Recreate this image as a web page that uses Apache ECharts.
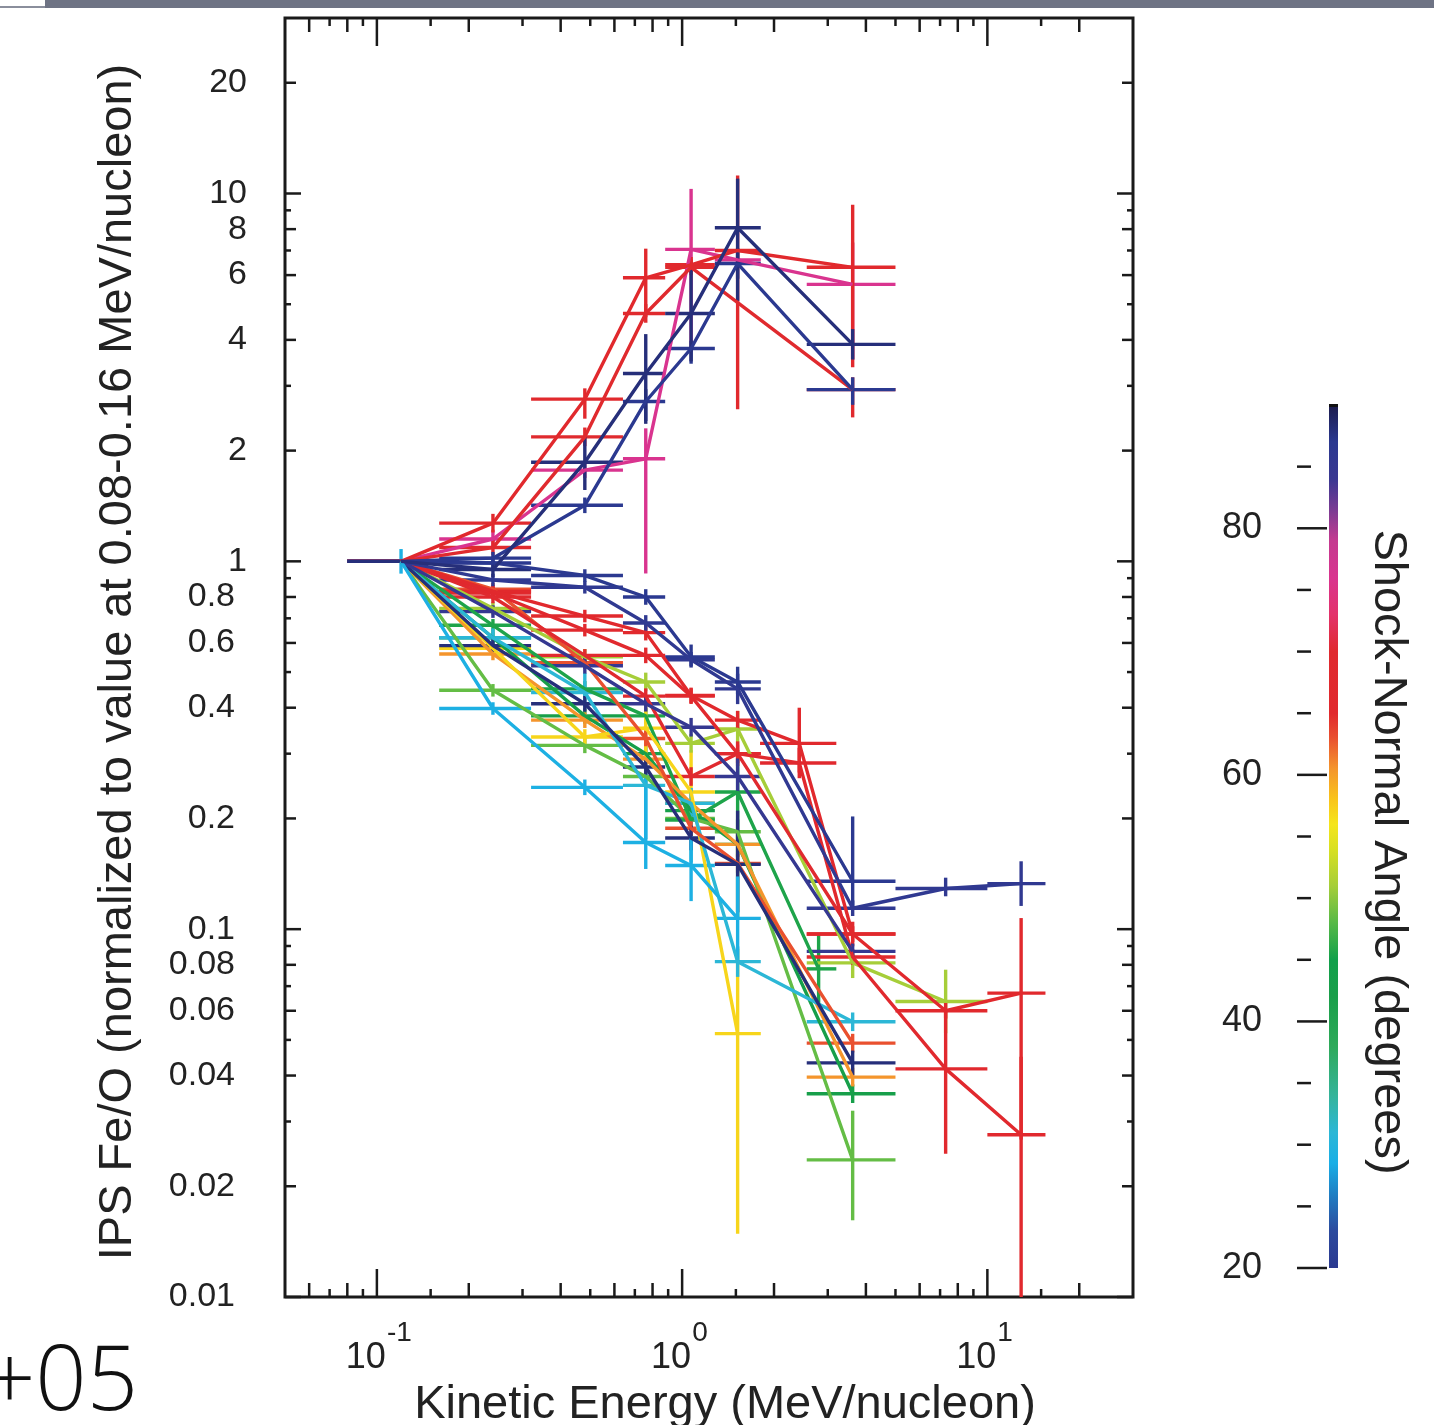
<!DOCTYPE html>
<html>
<head>
<meta charset="utf-8">
<script src="https://cdn.jsdelivr.net/npm/echarts@6/dist/echarts.min.js"></script>
<style>
  html, body { margin: 0; padding: 0; background: #ffffff; }
  #chart { width: 1434px; height: 1425px; }
</style>
</head>
<body>
<div id="chart"></div>
<script>
// ---- Energy bins (MeV/nucleon): centre and horizontal extent ----
const binCenter = [0.12, 0.24, 0.48, 0.76, 1.07, 1.52, 2.42, 2.8, 3.62, 7.3, 12.9];
const binLow    = [0.08, 0.16, 0.32, 0.64, 0.88, 1.28, 1.8, 2.56, 2.56, 5.0, 10.0];
const binHigh   = [0.16, 0.32, 0.64, 0.88, 1.28, 1.81, 3.2, 3.2, 5.0, 10.0, 15.5];

// ---- Events: [bin index, normalized Fe/O, error factor up, error factor down] ----
const evG2 = [[0,1,1,1],[1,0.62,1.04,1.04],[2,0.38,1.05,1.05],[3,0.30,1.05,1.05],[4,0.21,1.06,1.06],[5,0.17,1.08,1.08],[8,0.0357,1.06,1.06]];
const evG3 = [[0,1,1,1],[1,0.446,1.04,1.04],[2,0.316,1.05,1.05],[3,0.26,1.05,1.05],[4,0.20,1.06,1.06],[5,0.184,1.08,1.08],[8,0.0236,1.36,1.46]];
const evG1 = [[0,1,1,1],[1,0.67,1.04,1.04],[2,0.45,1.05,1.05],[3,0.38,1.05,1.05],[4,0.198,1.08,1.08],[5,0.236,1.3,2.2],[7,0.078,1.25,1.25]];
const evO1 = [[0,1,1,1],[1,0.56,1.04,1.04],[2,0.37,1.05,1.05],[3,0.29,1.05,1.05],[4,0.22,1.06,1.06],[5,0.17,1.08,1.08],[8,0.0396,1.06,1.06]];
const evY1 = [[0,1,1,1],[1,0.58,1.04,1.04],[2,0.333,1.05,1.05],[3,0.352,1.22,1.3],[4,0.236,1.3,1.15],[5,0.052,1.7,3.5]];
const evLM1 = [[0,1,1,1],[1,0.745,1.04,1.04],[2,0.55,1.05,1.05],[3,0.47,1.06,1.06],[4,0.32,1.06,1.06],[5,0.35,1.12,1.1],[8,0.081,1.06,1.1],[9,0.0636,1.22,1.22]];
const evC2 = [[0,1,1,1],[1,0.62,1.06,1.06],[2,0.44,1.13,1.1],[3,0.246,1.1,1.4],[4,0.22,1.1,1.45],[5,0.0816,1.1,1.1],[8,0.056,1.06,1.06]];
const evR6 = [[0,1,1,1],[1,0.84,1.04,1.04],[2,0.53,1.04,1.04],[3,0.33,1.05,1.05],[4,0.188,1.06,1.06],[5,0.151,1.06,1.06],[8,0.049,1.06,1.06]];
const evR5 = [[0,1,1,1],[1,0.80,1.04,1.04],[2,0.555,1.04,1.04],[3,0.43,1.05,1.05],[4,0.26,1.06,1.06],[5,0.30,1.06,1.06],[8,0.097,1.08,1.08]];
const evR4 = [[0,1,1,1],[1,0.82,1.04,1.04],[2,0.65,1.04,1.04],[3,0.555,1.05,1.05],[4,0.43,1.05,1.05],[5,0.30,1.08,1.08],[6,0.283,1.1,1.1],[8,0.084,1.05,1.05],[9,0.0417,1.44,1.7],[10,0.0276,1.63,3.2]];
const evR3 = [[0,1,1,1],[1,0.83,1.04,1.04],[2,0.71,1.04,1.04],[3,0.64,1.05,1.05],[4,0.432,1.05,1.05],[5,0.37,1.06,1.06],[6,0.32,1.25,1.2],[8,0.097,1.05,1.05],[9,0.06,1.05,1.05],[10,0.067,1.6,2.5]];
const evN4 = [[0,1,1,1],[1,0.59,1.04,1.04],[2,0.41,1.05,1.05],[3,0.276,1.05,1.05],[4,0.177,1.08,1.08],[5,0.15,1.4,1.35],[8,0.0433,1.08,1.08]];
const evN3 = [[0,1,1,1],[1,0.73,1.04,1.04],[2,0.52,1.05,1.05],[3,0.41,1.05,1.05],[4,0.354,1.06,1.06],[5,0.26,1.12,1.12],[8,0.087,1.05,1.05]];
const evN2 = [[0,1,1,1],[1,0.89,1.04,1.04],[2,0.85,1.04,1.04],[3,0.68,1.05,1.05],[4,0.54,1.05,1.05],[5,0.45,1.1,1.1],[8,0.114,1.05,1.05],[9,0.129,1.07,1.05],[10,0.133,1.15,1.15]];
const evN1 = [[0,1,1,1],[1,0.99,1.04,1.04],[2,0.915,1.04,1.04],[3,0.80,1.05,1.05],[4,0.55,1.08,1.06],[5,0.47,1.1,1.08],[8,0.135,1.5,1.18]];
const evC1 = [[0,1,1.08,1.08],[1,0.398,1.04,1.04],[2,0.243,1.05,1.05],[3,0.172,1.5,1.18],[4,0.149,1.2,1.25],[5,0.107,1.3,1.3]];
const evM1 = [[0,1,1,1],[1,1.15,1.06,1.06],[2,1.77,1.05,1.05],[3,1.9,1.21,2.05],[4,7.05,1.46,1.9],[5,6.6,1.05,1.05],[8,5.66,1.3,1.6]];
const evT1 = [[0,1,1,1],[1,1.27,1.06,1.06],[2,2.76,1.07,1.13],[3,5.9,1.2,1.28],[4,6.4,1.05,1.05],[5,7.0,1.6,2.7],[8,6.3,1.48,1.87]];
const evT2 = [[0,1,1,1],[1,1.09,1.05,1.05],[2,2.18,1.06,1.06],[3,4.72,1.06,1.06],[4,6.3,1.05,1.05],[8,2.93,1.08,1.19]];
const evT4 = [[0,1,1,1],[1,1.02,1.04,1.04],[2,1.42,1.05,1.05],[3,2.72,1.08,1.13],[4,3.79,1.05,1.1],[5,6.45,1.1,1.1],[8,2.93,1.08,1.1]];
const evT5 = [[0,1,1,1],[1,0.95,1.05,1.05],[2,1.86,1.17,1.19],[3,3.24,1.28,1.37],[4,4.72,1.33,1.35],[5,8.07,1.36,1.58],[8,3.89,1.1,1.1]];

// Drawing order and shock-normal angle (degrees) of each event
const events      = [evG2, evG3, evG1, evO1, evY1, evLM1, evC2, evR6, evR5, evR4, evR3, evN4, evN3, evN2, evN1, evC1, evM1, evT1, evT2, evT4, evT5];
const eventAngles = [43,   48.5, 45.5, 60.5, 57,   51,    31,   63,   69,   67,   65,   88,   85,   86,   87,   29,   76,   66,   68,   87,   88];

// ---- Colour scale for shock-normal angle ----
const angleStops  = [20, 23, 26, 28.5, 31, 34, 38, 42, 45, 48, 51, 54, 56, 58, 60.5, 63, 65, 70, 73, 76, 79, 81.5, 84, 87, 90];
const angleColors = ['#2b3990','#2c4a9e','#1f7fc4','#19aee6','#2cb7d6','#35b49a','#2eaa5a','#1a9f4a','#12a04b','#57b947','#a6ce39','#d9e021','#f5e51c','#f9c41a','#f4952c','#e9502f','#e1292d','#e02a2f','#e3326b','#d9348f','#c43a90','#7a3b93','#3a3892','#2b3990','#1c1c4d'];

// ---- Axis ticks and labels ----
const xMajorTicks = [0.1, 1, 10];
const xEvenTicks  = [0.06, 0.08, 0.2, 0.4, 0.6, 0.8, 2, 4, 6, 8, 20];
const xOddTicks   = [0.07, 0.09, 0.15, 0.3, 0.5, 0.7, 0.9, 1.5, 3, 5, 7, 9, 15];
const yMajorTicks = [0.01, 0.1, 1, 10];
const yEvenTicks  = [0.02, 0.04, 0.06, 0.08, 0.2, 0.4, 0.6, 0.8, 2, 4, 6, 8, 20];
const yOddTicks   = [0.03, 0.05, 0.07, 0.09, 0.3, 0.5, 0.7, 0.9, 3, 5, 7, 9];
const yLabels     = ['20', '10', '8', '6', '4', '2', '1', '0.8', '0.6', '0.4', '0.2', '0.1', '0.08', '0.06', '0.04', '0.02', '0.01'];
const xLabelVals  = [0.1, 1, 10];
const xLabelExps  = ['-1', '0', '1'];
const cbMajorTicks = [20, 40, 60, 80];
const cbMinorTicks = [25, 30, 35, 45, 50, 55, 65, 70, 75, 85];

const FONT = '"Liberation Sans", Arial, Helvetica, sans-serif';
const INK = '#222222';
const MARK_WIDTH = 3.4;

function hexToRgb(h) {
  return [parseInt(h.slice(1, 3), 16), parseInt(h.slice(3, 5), 16), parseInt(h.slice(5, 7), 16)];
}
function angleColor(a) {
  for (let i = 0; i < angleStops.length - 1; i++) {
    if (a <= angleStops[i + 1]) {
      const t = Math.max(0, (a - angleStops[i]) / (angleStops[i + 1] - angleStops[i]));
      const c0 = hexToRgb(angleColors[i]), c1 = hexToRgb(angleColors[i + 1]);
      const c = c0.map((v, k) => Math.round(v + (c1[k] - v) * t));
      return 'rgb(' + c.join(',') + ')';
    }
  }
  return angleColors[angleColors.length - 1];
}

const chart = echarts.init(document.getElementById('chart'), null, { renderer: 'canvas', width: 1434, height: 1425 });

const series = [];

// Data: connecting line + error crosses for each event
events.forEach((pts, k) => {
  const color = angleColor(eventAngles[k]);
  series.push({
    type: 'line',
    xAxisIndex: 0, yAxisIndex: 0,
    data: pts.map(p => [binCenter[p[0]], p[1]]),
    showSymbol: false, symbol: 'none',
    lineStyle: { color: color, width: MARK_WIDTH },
    itemStyle: { color: color },
    silent: true
  });
  series.push({
    type: 'custom',
    xAxisIndex: 0, yAxisIndex: 0,
    clip: true,
    silent: true,
    data: pts.map(p => [binCenter[p[0]], p[1], binLow[p[0]], binHigh[p[0]], p[1] / p[3], p[1] * p[2]]),
    encode: { x: 0, y: 1 },
    renderItem: function (params, api) {
      const l = api.coord([api.value(2), api.value(1)]);
      const r = api.coord([api.value(3), api.value(1)]);
      const t = api.coord([api.value(0), api.value(5)]);
      const b = api.coord([api.value(0), api.value(4)]);
      return {
        type: 'group',
        children: [
          { type: 'line', shape: { x1: l[0], y1: l[1], x2: r[0], y2: r[1] }, style: { stroke: color, lineWidth: MARK_WIDTH } },
          { type: 'line', shape: { x1: t[0], y1: t[1], x2: b[0], y2: b[1] }, style: { stroke: color, lineWidth: MARK_WIDTH } }
        ]
      };
    }
  });
});

// Frame ticks on all four sides (pointing inward)
const tickItems = [];
xMajorTicks.forEach(v => tickItems.push([v, 1, 0, 28]));
xEvenTicks.forEach(v => tickItems.push([v, 1, 0, 14]));
xOddTicks.forEach(v => tickItems.push([v, 1, 0, 8]));
yMajorTicks.forEach(v => tickItems.push([1, v, 1, 16]));
yEvenTicks.forEach(v => tickItems.push([1, v, 1, 11]));
yOddTicks.forEach(v => tickItems.push([1, v, 1, 6]));
series.push({
  type: 'custom', xAxisIndex: 0, yAxisIndex: 0, silent: true, z: 5,
  data: tickItems,
  encode: { x: 0, y: 1 },
  renderItem: function (params, api) {
    const cs = params.coordSys;
    const len = api.value(3);
    const st = { stroke: '#1a1a1a', lineWidth: 2.5 };
    if (api.value(2) === 0) {
      const x = api.coord([api.value(0), 1])[0];
      const yb = cs.y + cs.height, yt = cs.y;
      return { type: 'group', children: [
        { type: 'line', shape: { x1: x, y1: yb, x2: x, y2: yb - len }, style: st },
        { type: 'line', shape: { x1: x, y1: yt, x2: x, y2: yt + len }, style: st }
      ] };
    }
    const y = api.coord([1, api.value(1)])[1];
    const xl = cs.x, xr = cs.x + cs.width;
    return { type: 'group', children: [
      { type: 'line', shape: { x1: xl, y1: y, x2: xl + len, y2: y }, style: st },
      { type: 'line', shape: { x1: xr, y1: y, x2: xr - len, y2: y }, style: st }
    ] };
  }
});

// Y tick labels
series.push({
  type: 'custom', xAxisIndex: 0, yAxisIndex: 0, silent: true, z: 5,
  data: yLabels.map(s => [1, parseFloat(s)]),
  encode: { x: 0, y: 1 },
  renderItem: function (params, api) {
    const cs = params.coordSys;
    const txt = yLabels[params.dataIndex];
    const y = api.coord([1, api.value(1)])[1];
    const x = cs.x - (txt.indexOf('.') >= 0 ? 50 : 38);
    return { type: 'text', style: { text: txt, x: x, y: y, fill: INK, font: '34px ' + FONT,
      align: 'right', verticalAlign: 'middle', textAlign: 'right', textVerticalAlign: 'middle' } };
  }
});

// X tick labels (powers of ten)
series.push({
  type: 'custom', xAxisIndex: 0, yAxisIndex: 0, silent: true, z: 5,
  data: xLabelVals.map(v => [v, 0.01]),
  encode: { x: 0, y: 1 },
  renderItem: function (params, api) {
    const cs = params.coordSys;
    const x = api.coord([api.value(0), 0.01])[0];
    const yb = cs.y + cs.height;
    return { type: 'group', children: [
      { type: 'text', style: { text: '10', x: x + 9, y: yb + 61, fill: INK, font: '36px ' + FONT,
        align: 'right', verticalAlign: 'middle', textAlign: 'right', textVerticalAlign: 'middle' } },
      { type: 'text', style: { text: xLabelExps[params.dataIndex], x: x + 10, y: yb + 36, fill: INK, font: '28px ' + FONT,
        align: 'left', verticalAlign: 'middle', textAlign: 'left', textVerticalAlign: 'middle' } }
    ] };
  }
});

// Colour bar
series.push({
  type: 'custom', xAxisIndex: 1, yAxisIndex: 1, silent: true,
  data: [[0, 20]],
  encode: { x: 0, y: 1 },
  renderItem: function (params, api) {
    const top = api.coord([0, 90]);
    const bot = api.coord([1, 20]);
    return { type: 'group', children: [
      { type: 'rect', shape: { x: top[0], y: top[1], width: bot[0] - top[0], height: bot[1] - top[1] },
        style: { fill: { type: 'linear', x: 0, y: 1, x2: 0, y2: 0,
          colorStops: angleStops.map((a, i) => ({ offset: (a - 20) / 70, color: angleColors[i] })) } } },
      { type: 'rect', shape: { x: top[0], y: top[1] - 1, width: bot[0] - top[0], height: 3 }, style: { fill: '#111111' } }
    ] };
  }
});

// Colour bar ticks and labels
const cbItems = [];
cbMajorTicks.forEach(v => cbItems.push([0, v, 1]));
cbMinorTicks.forEach(v => cbItems.push([0, v, 0]));
series.push({
  type: 'custom', xAxisIndex: 1, yAxisIndex: 1, silent: true,
  data: cbItems,
  encode: { x: 0, y: 1 },
  renderItem: function (params, api) {
    const p = api.coord([0, api.value(1)]);
    const major = api.value(2) === 1;
    const x0 = p[0] - 32;
    const children = [
      { type: 'line', shape: { x1: x0, y1: p[1], x2: x0 + (major ? 30 : 14), y2: p[1] }, style: { stroke: '#1a1a1a', lineWidth: 2.5 } }
    ];
    if (major) {
      children.push({ type: 'text', style: { text: String(api.value(1)), x: p[0] - 67, y: p[1], fill: INK, font: '36px ' + FONT,
        align: 'right', verticalAlign: 'middle', textAlign: 'right', textVerticalAlign: 'middle' } });
    }
    return { type: 'group', children: children };
  }
});

const option = {
  animation: false,
  backgroundColor: '#ffffff',
  grid: [
    { left: 285, top: 18, width: 848, height: 1279, show: true, borderWidth: 3, borderColor: '#1a1a1a', backgroundColor: 'transparent' },
    { left: 1329, top: 405, width: 9, height: 863, show: false }
  ],
  xAxis: [
    { type: 'log', logBase: 10, min: 0.05, max: 30, gridIndex: 0,
      axisLine: { show: false }, axisTick: { show: false }, axisLabel: { show: false }, splitLine: { show: false } },
    { type: 'value', min: 0, max: 1, gridIndex: 1, show: false }
  ],
  yAxis: [
    { type: 'log', logBase: 10, min: 0.01, max: 30, gridIndex: 0,
      axisLine: { show: false }, axisTick: { show: false }, axisLabel: { show: false }, splitLine: { show: false } },
    { type: 'value', min: 20, max: 90, gridIndex: 1, show: false }
  ],
  graphic: [
    { type: 'rect', left: 45, top: 0, shape: { width: 1389, height: 8 }, style: { fill: '#6e7384' }, silent: true },
    { type: 'rect', left: 0, top: 6, shape: { width: 45, height: 2 }, style: { fill: '#8a8e9c' }, silent: true },
    { type: 'text', x: 118, y: 662, rotation: Math.PI / 2, silent: true,
      style: { text: 'IPS Fe/O (normalized to value at 0.08-0.16 MeV/nucleon)', fill: INK, font: '47px ' + FONT,
        align: 'center', verticalAlign: 'middle', textAlign: 'center', textVerticalAlign: 'middle' } },
    { type: 'text', x: 725, y: 1405, silent: true,
      style: { text: 'Kinetic Energy (MeV/nucleon)', fill: INK, font: '47px ' + FONT,
        align: 'center', verticalAlign: 'middle', textAlign: 'center', textVerticalAlign: 'middle' } },
    { type: 'text', x: 1388, y: 852, rotation: -Math.PI / 2, silent: true,
      style: { text: 'Shock-Normal Angle (degrees)', fill: INK, font: '47px ' + FONT,
        align: 'center', verticalAlign: 'middle', textAlign: 'center', textVerticalAlign: 'middle' } },
    { type: 'text', x: 138, y: 1384, silent: true,
      style: { text: '+05', fill: '#111111', font: '300 90px "Open Sans", "Noto Sans", sans-serif',
        align: 'right', verticalAlign: 'middle', textAlign: 'right', textVerticalAlign: 'middle' } }
  ],
  series: series
};

chart.setOption(option);
</script>
</body>
</html>
